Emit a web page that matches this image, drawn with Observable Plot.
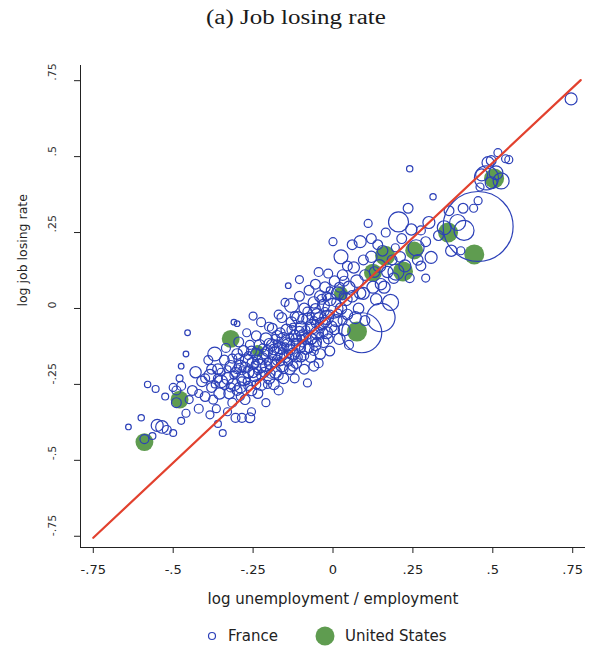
<!DOCTYPE html>
<html>
<head>
<meta charset="utf-8">
<script src="https://cdn.jsdelivr.net/npm/d3@7"></script>
<script src="https://cdn.jsdelivr.net/npm/@observablehq/plot@0.6"></script>
<style>
  html, body { margin: 0; padding: 0; background: #fff; }
  #wrap { position: relative; width: 592px; height: 646px; overflow: hidden; background: #fff; }
  #title { position: absolute; top: 0; left: 0; width: 592px; height: 36px; line-height: 34px; text-align: center;
           font-family: "Liberation Serif", serif; font-size: 20px; color: #1a1a1a; }
  #title span { display: inline-block; transform: scaleX(1.25); }
  #chart { position: absolute; top: 36px; left: 0; }
  #legend { position: absolute; top: 626px; left: 0; width: 592px; height: 20px;
            font-family: "DejaVu Sans", sans-serif; font-size: 15px; color: #222; line-height: 20px; }
  #legend .t { position: absolute; top: 0; }
  #legend svg { position: absolute; top: 0; }
</style>
</head>
<body>
<div id="wrap">
  <div id="title"><span>(a) Job losing rate</span></div>
  <div id="chart"></div>
  <div id="legend">
    <svg style="left:206px" width="12" height="20"><circle cx="6" cy="10" r="3.5" fill="none" stroke="#2c40b8" stroke-width="1.2"/></svg>
    <span class="t" style="left:228px">France</span>
    <svg style="left:313px" width="24" height="20"><circle cx="12" cy="10" r="9.5" fill="#5f9c50"/></svg>
    <span class="t" style="left:345px">United States</span>
  </div>
</div>
<script>
// tick values
const xTicks = [-0.75, -0.5, -0.25, 0, 0.25, 0.5, 0.75];
const yTicks = [-0.75, -0.5, -0.25, 0, 0.25, 0.5, 0.75];

// fitted line endpoints
const lineX = [-0.75, 0.775];
const lineY = [-0.755, 0.752];

// United States: [log u/e, log job losing rate, weight]
const unitedStates = [
  [-0.59, -0.44, 20], [-0.48, -0.30, 20], [-0.32, -0.10, 20], [-0.235, -0.14, 9],
  [0.025, 0.05, 12], [0.075, -0.076, 25], [0.125, 0.118, 20], [0.163, 0.174, 25],
  [0.219, 0.122, 25], [0.254, 0.191, 20], [0.36, 0.25, 25], [0.442, 0.178, 25],
  [0.504, 0.428, 25]
];

// France: [log u/e, log job losing rate, weight]
const france = [
  [-0.64,-0.39,2],[-0.60,-0.36,2.5],[-0.59,-0.43,5],[-0.58,-0.25,2.5],[-0.555,-0.265,3],[-0.55,-0.385,9],
  [-0.535,-0.39,10],[-0.525,-0.29,3],[-0.50,-0.41,3],[-0.49,-0.27,5],[-0.48,-0.23,3],[-0.475,-0.19,2],
  [-0.455,-0.08,2],[-0.46,-0.15,2],[-0.46,-0.345,4],[-0.49,-0.31,6],[-0.475,-0.255,5],[-0.45,-0.30,4],
  [-0.52,-0.40,5],[-0.565,-0.42,3],[-0.475,-0.37,3],[-0.50,-0.26,4],[-0.44,-0.27,6],[-0.43,-0.21,8],
  [-0.42,-0.33,5],[-0.41,-0.24,7],[-0.40,-0.29,6],
  [-0.39,-0.17,5],[-0.385,-0.22,9],[-0.38,-0.26,6],[-0.375,-0.30,5],[-0.37,-0.15,12],[-0.365,-0.33,4],
  [-0.36,-0.20,7],[-0.355,-0.28,8],[-0.35,-0.24,10],[-0.36,-0.38,3],[-0.385,-0.35,4],[-0.345,-0.41,3],
  [-0.34,-0.17,6],[-0.335,-0.13,5],[-0.33,-0.23,9],[-0.325,-0.28,7],[-0.32,-0.19,8],[-0.315,-0.31,5],
  [-0.31,-0.25,10],[-0.305,-0.21,6],[-0.30,-0.05,2],[-0.33,-0.34,4],[-0.30,-0.15,7],[-0.305,-0.36,5],
  [-0.31,-0.045,2],
  [-0.295,-0.11,6],[-0.29,-0.19,9],[-0.29,-0.26,8],[-0.285,-0.36,5],[-0.28,-0.14,7],[-0.28,-0.23,12],
  [-0.275,-0.30,6],[-0.27,-0.17,10],[-0.265,-0.21,8],[-0.26,-0.36,6],[-0.26,-0.12,5],[-0.255,-0.27,7],
  [-0.25,-0.025,4],[-0.25,-0.18,9],[-0.255,-0.34,4],[-0.27,-0.08,4],
  [-0.245,-0.22,10],[-0.24,-0.09,6],[-0.24,-0.15,8],[-0.235,-0.28,6],[-0.23,-0.12,7],[-0.23,-0.19,12],
  [-0.225,-0.045,5],[-0.225,-0.25,9],[-0.22,-0.165,8],[-0.215,-0.21,6],[-0.21,-0.10,9],[-0.21,-0.31,4],
  [-0.205,-0.14,7],[-0.20,-0.23,8],[-0.20,-0.06,5],
  [-0.195,-0.18,10],[-0.19,-0.065,6],[-0.19,-0.12,8],[-0.185,-0.25,7],[-0.18,-0.15,12],[-0.18,-0.21,9],
  [-0.175,-0.09,7],[-0.17,-0.02,5],[-0.17,-0.27,5],[-0.165,-0.13,9],[-0.16,-0.19,8],[-0.16,-0.03,6],
  [-0.155,-0.23,7],[-0.155,-0.10,10],[-0.15,-0.16,8],[-0.15,0.02,4],
  [-0.145,-0.07,8],[-0.14,0.075,2],[-0.14,-0.12,10],[-0.135,-0.20,7],[-0.13,0.01,12],[-0.13,-0.045,7],
  [-0.125,-0.15,9],[-0.12,-0.09,8],[-0.12,-0.23,5],[-0.115,-0.18,7],[-0.11,-0.03,9],[-0.11,-0.12,10],
  [-0.105,0.095,4],[-0.105,0.04,6],[-0.10,-0.06,8],[-0.10,-0.16,6],
  [-0.095,-0.09,9],[-0.09,-0.20,6],[-0.09,0.0,7],[-0.085,-0.13,10],[-0.08,-0.035,8],[-0.08,-0.245,4],
  [-0.075,0.06,6],[-0.07,-0.10,9],[-0.07,-0.16,7],[-0.065,-0.06,12],[-0.06,0.02,8],[-0.06,-0.19,6],
  [-0.055,0.08,6],[-0.055,-0.12,8],[-0.05,-0.02,9],[-0.05,-0.08,10],
  [-0.045,0.12,5],[-0.04,-0.15,7],[-0.04,0.04,8],[-0.035,-0.05,10],[-0.03,0.01,9],[-0.03,-0.11,8],
  [-0.025,0.07,7],[-0.02,-0.08,9],[-0.02,-0.03,12],[-0.015,0.115,5],[-0.01,-0.14,6],[-0.01,0.03,10],
  [-0.005,-0.06,8],[0.0,0.0,25],[-0.045,-0.18,5],
  [0.0,0.22,4],[0.005,0.09,7],[0.01,-0.04,9],[0.015,0.05,10],[0.02,-0.10,8],[0.025,0.17,12],
  [0.025,0.0,8],[0.03,0.11,7],[0.035,-0.07,9],[0.04,0.03,10],[0.045,0.14,6],[0.045,-0.02,7],
  [0.05,0.07,9],[0.05,-0.12,5],
  [0.06,0.21,6],[0.06,0.04,8],[0.065,0.135,8],[0.07,-0.03,9],[0.075,0.09,10],[0.08,0.0,7],
  [0.085,0.22,9],[0.085,0.05,8],[0.09,-0.08,100],[0.095,0.16,6],[0.095,0.05,9],[0.10,0.11,7],
  [0.10,-0.04,6],
  [0.11,0.28,4],[0.12,0.23,6],[0.12,0.17,8],[0.125,0.07,9],[0.13,0.12,7],[0.135,0.03,8],
  [0.14,0.21,6],[0.145,0.14,10],[0.15,0.08,8],[0.15,-0.03,50],
  [0.155,0.19,7],[0.16,0.07,9],[0.165,0.25,5],[0.17,0.12,8],[0.18,0.02,16],[0.185,0.16,6],
  [0.19,0.10,7],[0.195,0.20,4],[0.197,0.12,16],
  [0.205,0.285,25],[0.21,0.17,7],[0.215,0.23,6],[0.225,0.14,9],[0.235,0.33,6],[0.24,0.46,2.5],
  [0.24,0.10,5],[0.245,0.26,8],
  [0.26,0.20,16],[0.265,0.16,7],[0.275,0.257,5],[0.275,0.14,6],[0.29,0.10,4],[0.29,0.22,6],
  [0.30,0.283,9],
  [0.307,0.168,9],[0.313,0.368,2.5],[0.33,0.24,6],[0.348,0.266,12],[0.363,0.322,6],[0.37,0.19,8],
  [0.39,0.283,16],[0.40,0.19,4],
  [0.407,0.33,6],[0.41,0.257,25],[0.44,0.33,4],[0.454,0.355,4],[0.454,0.27,306],[0.46,0.40,4],
  [0.465,0.44,9],[0.48,0.43,36],[0.485,0.48,9],[0.495,0.414,9],[0.495,0.487,6],
  [0.51,0.447,12],[0.516,0.513,4],[0.526,0.42,16],[0.54,0.493,4],[0.55,0.49,4],[0.745,0.69,9],
  [-0.285,-0.205,4],[-0.265,-0.155,4],[-0.245,-0.185,3],[-0.235,-0.205,4],[-0.22,-0.13,4],[-0.205,-0.175,3],
  [-0.19,-0.155,4],[-0.175,-0.115,3],[-0.165,-0.175,4],[-0.15,-0.125,3],[-0.135,-0.095,4],[-0.125,-0.06,3],
  [-0.115,-0.145,4],[-0.095,-0.115,3],[-0.085,-0.07,4],[-0.07,-0.025,3],[-0.055,-0.05,4],[-0.04,-0.09,3],
  [-0.025,-0.01,4],[-0.01,0.06,3],[0.015,-0.015,4],[0.03,0.04,3],[-0.2,-0.2,3],[-0.18,-0.18,4],
  [-0.16,-0.14,3],[-0.14,-0.15,4],[-0.12,-0.11,3],[-0.1,-0.1,4],[-0.08,-0.09,3],[-0.06,-0.04,4],
  [-0.31,-0.22,4],[-0.33,-0.2,3],[-0.35,-0.21,4],[-0.37,-0.25,3],[-0.29,-0.29,4],[-0.27,-0.24,3],
  [-0.30,-0.20,5],[-0.295,-0.165,6],[-0.285,-0.24,5],[-0.275,-0.195,7],[-0.265,-0.255,5],[-0.255,-0.14,6],
  [-0.25,-0.21,7],[-0.24,-0.25,5],[-0.235,-0.17,6],[-0.225,-0.22,5],[-0.215,-0.15,6],[-0.21,-0.19,7],
  [-0.205,-0.25,4],[-0.2,-0.115,6],[-0.195,-0.215,5],[-0.185,-0.135,7],[-0.18,-0.1,5],[-0.175,-0.17,6],
  [-0.17,-0.22,5],[-0.165,-0.08,6],[-0.16,-0.155,7],[-0.155,-0.2,5],[-0.145,-0.11,6],[-0.14,-0.175,5],
  [-0.135,-0.135,7],[-0.13,-0.07,5],[-0.125,-0.19,6],[-0.12,-0.025,5],[-0.115,-0.1,7],[-0.11,-0.16,5],
  [-0.105,-0.075,6],[-0.1,-0.13,5],[-0.095,-0.035,6],[-0.09,-0.155,5],[-0.085,-0.1,7],[-0.08,-0.01,5],
  [-0.075,-0.13,6],[-0.07,-0.06,5],[-0.065,-0.1,6],[-0.06,-0.14,5],[-0.055,0.0,6],[-0.05,-0.11,5],
  [-0.045,-0.03,6],[-0.04,-0.065,5],[-0.035,0.03,6],[-0.03,-0.08,5],[-0.025,-0.045,6],[-0.02,0.04,5],
  [-0.015,-0.1,6],[-0.01,-0.02,5],[0.005,-0.07,6],[0.01,0.02,5],[0.02,0.07,6],[0.03,-0.04,5],
  [0.035,0.09,6],[-0.32,-0.26,5],[-0.34,-0.25,6],[-0.36,-0.23,5],[-0.38,-0.2,6],[-0.4,-0.23,5],
  [-0.42,-0.28,4],[-0.3,-0.27,6],[-0.315,-0.165,5]
];

const fmt = d => d === 0 ? "0" : String(d).replace(/^(-?)0\./, "$1.");
const xDomain = [-0.79, 0.79];
const yDomain = [-0.787, 0.80];

const chart = Plot.plot({
  width: 592,
  height: 580,
  marginTop: 29,
  marginBottom: 69,
  marginLeft: 80,
  marginRight: 7,
  x: {domain: xDomain},
  y: {domain: yDomain},
  r: {domain: [0, 400], range: [0, 40]},
  style: {fontFamily: "DejaVu Sans, sans-serif", fontSize: "13px", background: "#fff", color: "#222"},
  marks: [
    Plot.dot(unitedStates, {x: d => d[0], y: d => d[1], r: d => d[2], fill: "#5f9c50", stroke: "none"}),
    Plot.dot(france, {x: d => d[0], y: d => d[1], r: d => d[2], fill: "none", stroke: "#2c40b8", strokeWidth: 1.2}),
    Plot.line(lineX.map((x, i) => [x, lineY[i]]), {x: d => d[0], y: d => d[1], stroke: "#e2412e", strokeWidth: 2.2}),
    Plot.ruleX([xDomain[0]], {stroke: "#222"}),
    Plot.ruleY([yDomain[0]], {stroke: "#222"}),
    Plot.axisX({ticks: xTicks, tickFormat: fmt, tickSize: 6, tickPadding: 11, fontSize: 13, stroke: "#222"}),
    Plot.axisY({ticks: yTicks, tickFormat: () => "", tickSize: 6, stroke: "#222"}),
    Plot.text(yTicks, {y: d => d, text: fmt, frameAnchor: "left", dx: -28, rotate: -90, fontSize: 11, fill: "#333"}),
    Plot.text(["log job losing rate"], {text: d => d, frameAnchor: "left", dx: -58, rotate: -90, fontSize: 12.5}),
    Plot.text(["log unemployment / employment"], {text: d => d, frameAnchor: "bottom", dy: 56, fontSize: 15})
  ]
});
document.getElementById("chart").appendChild(chart);
</script>
</body>
</html>
